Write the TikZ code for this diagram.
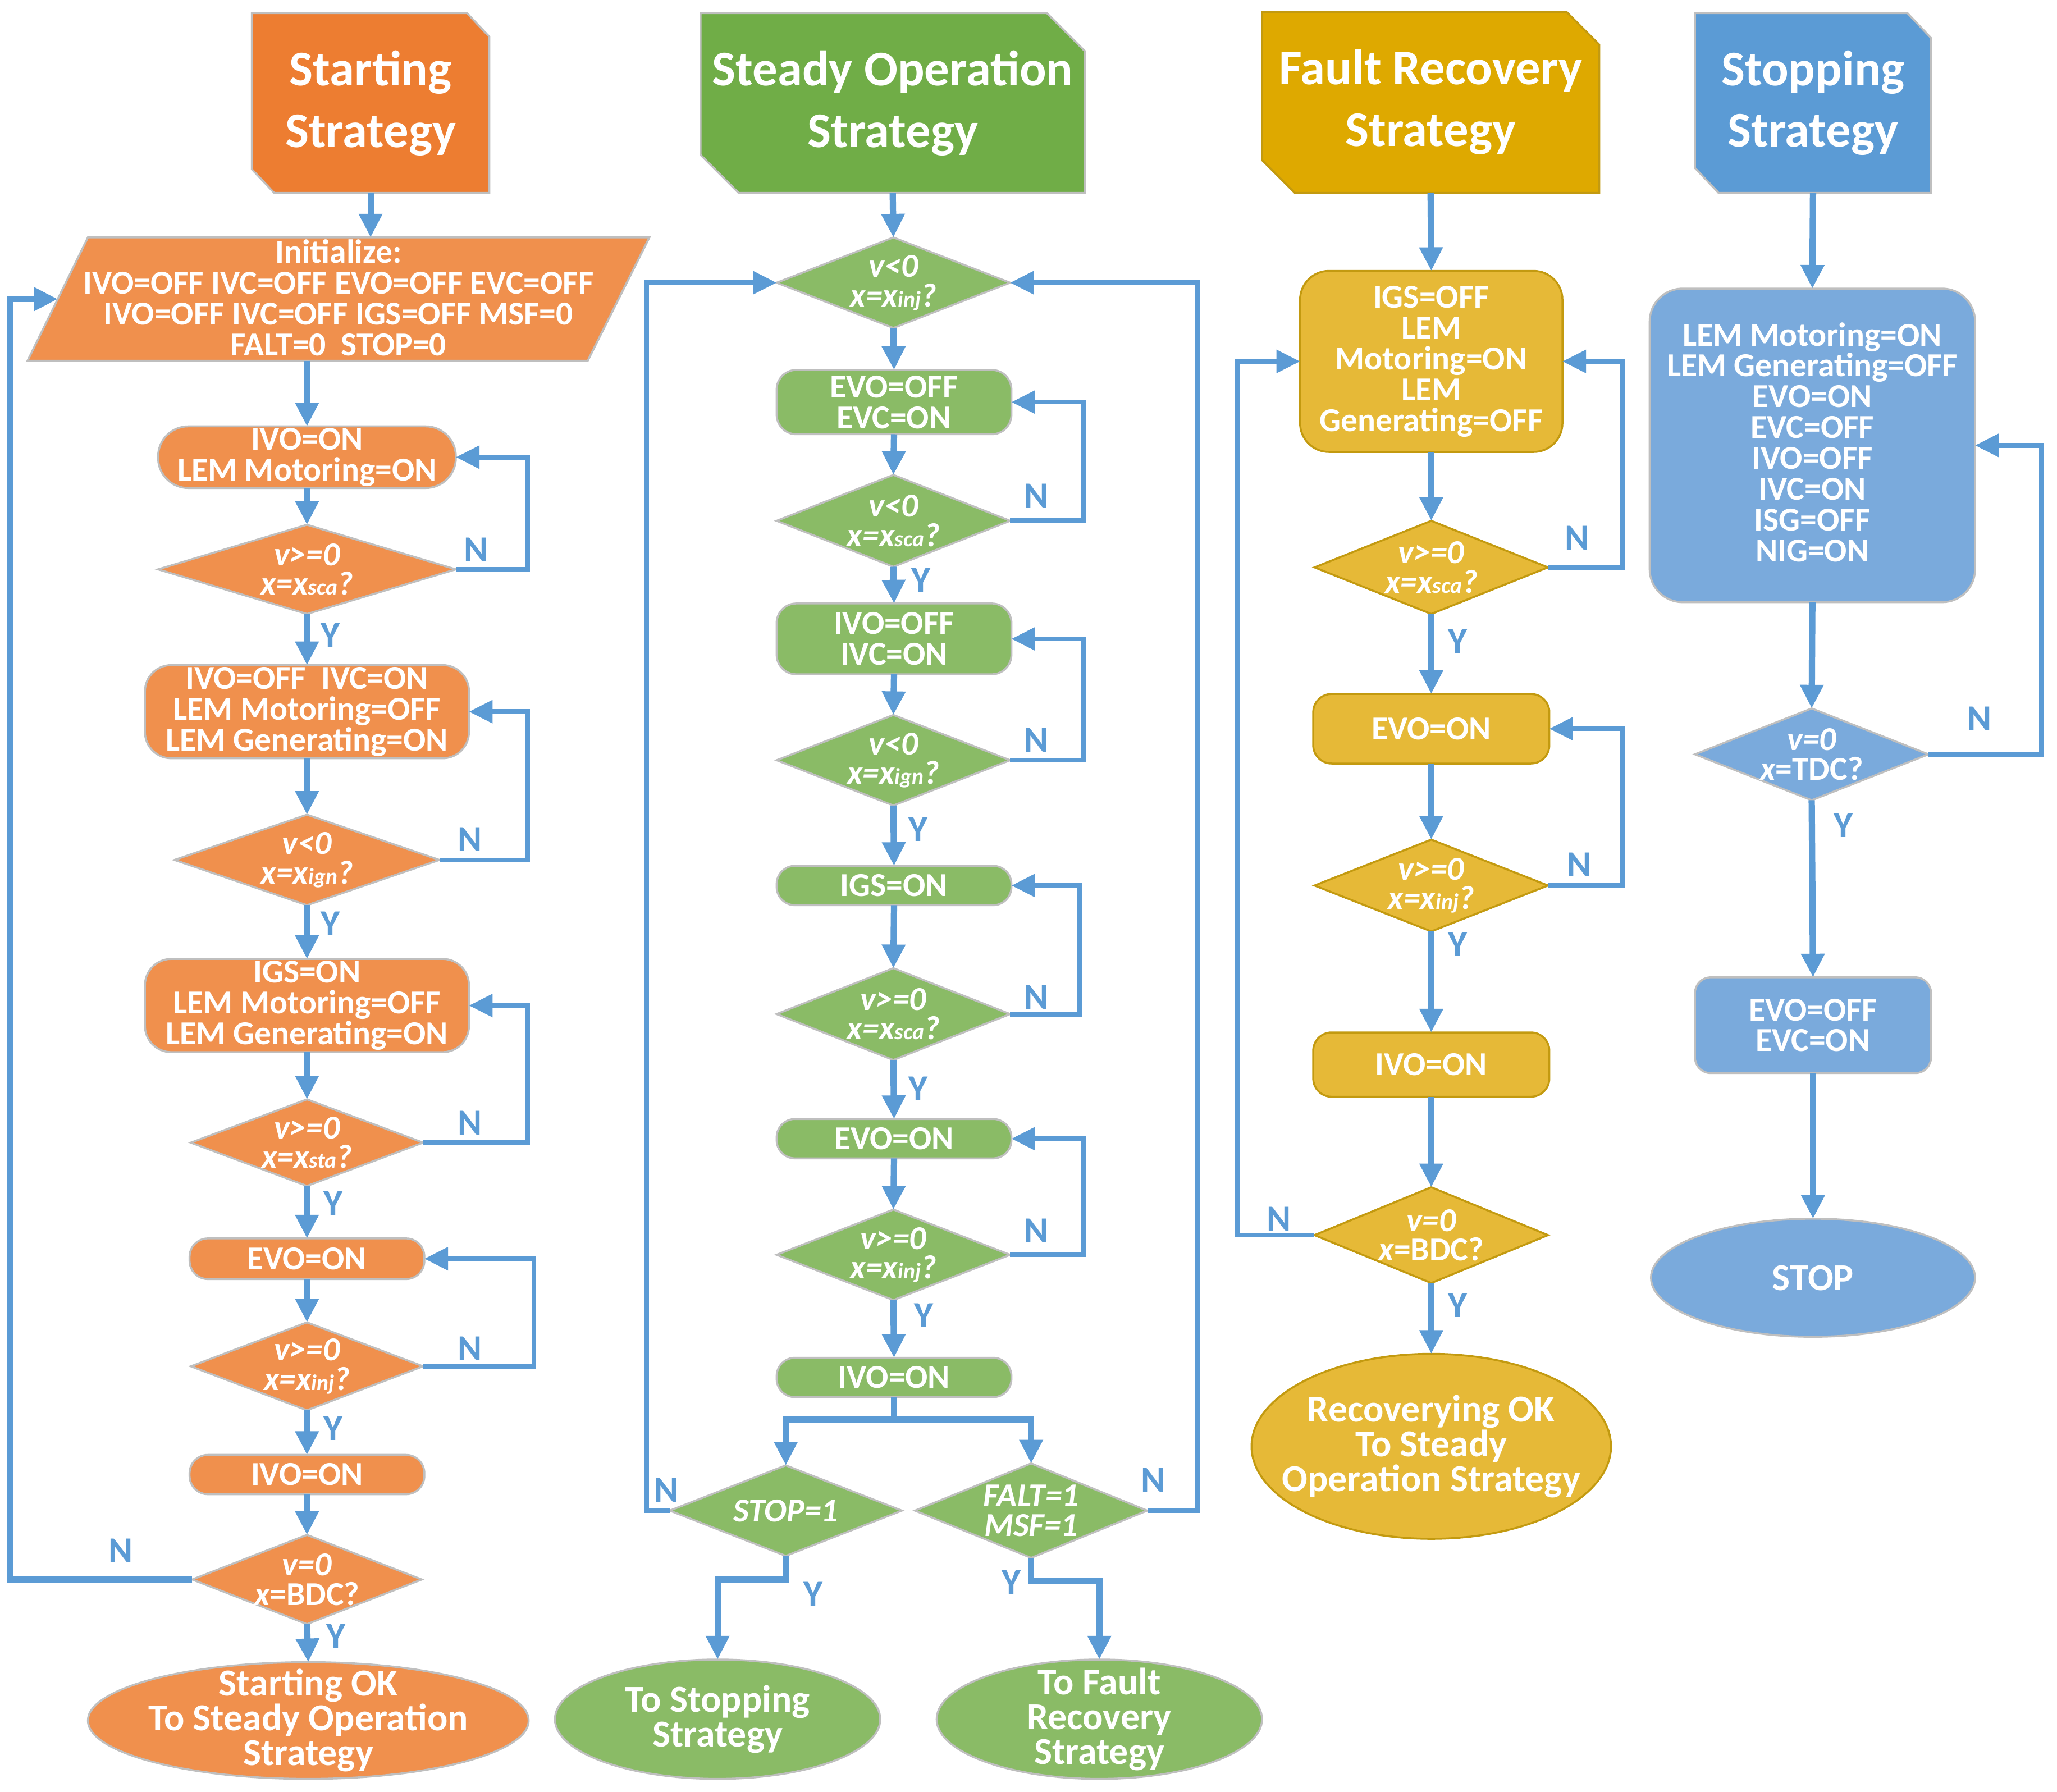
\documentclass[tikz,border=0pt]{standalone}
\usepackage{fontspec}
\setmainfont{Carlito}
\usetikzlibrary{shapes.geometric,arrows.meta}
\definecolor{orangeT}{HTML}{ED7D31}
\definecolor{orangeF}{HTML}{F0904D}
\definecolor{greenT}{HTML}{70AD47}
\definecolor{greenF}{HTML}{8ABB66}
\definecolor{goldT}{HTML}{DEA900}
\definecolor{goldF}{HTML}{E6B937}
\definecolor{goldB}{HTML}{C39A10}
\definecolor{blueT}{HTML}{5B9BD5}
\definecolor{blueF}{HTML}{7AAADC}
\definecolor{lineB}{HTML}{5B9BD5}
\definecolor{greyB}{HTML}{BFBFBF}
\newcommand\subx[1]{{\fontsize{17}{17}\selectfont #1}}
\begin{document}
\begin{tikzpicture}[x=1pt,y=-1pt,
  shp/.style={draw=greyB, line width=1.5pt, inner sep=0pt, outer sep=0pt},
  box/.style={shp, rectangle},
  dec/.style={shp, diamond},
  term/.style={shp, ellipse},
  txt/.style={text=white, align=center, inner sep=0pt, font=\bfseries\fontsize{25.5}{23.5}\selectfont},
  ttxt/.style={txt, font=\bfseries\fontsize{38}{47}\selectfont},
  etxt/.style={txt, font=\bfseries\fontsize{29}{26.5}\selectfont},
  dtxt/.style={txt, font=\bfseries\itshape\fontsize{25.5}{22.5}\selectfont},
  conn/.style={draw=lineB, line width=4.8pt, -{Triangle[length=18pt,width=17pt]}},
  loop/.style={conn, line width=3.6pt},
  bus/.style={draw=lineB, line width=4.8pt},
  lbl/.style={text=lineB, inner sep=0pt, font=\bfseries\fontsize{28}{28}\selectfont},
]
\useasboundingbox (0,0) rectangle (1568,1366);
\fill[white] (0,0) rectangle (1568,1366);

% ================= TITLES =================
\path[shp, fill=orangeT] (192,10) -- (356,10) -- (373,28) -- (373,147) -- (209,147) -- (192,129) -- cycle;
\node[ttxt, minimum width=181pt, minimum height=137pt] (t1) at (282.5,78.5) {Starting\\Strategy};
\path[shp, fill=greenT] (534,10) -- (798,10) -- (827,39) -- (827,147) -- (563,147) -- (534,118) -- cycle;
\node[ttxt, minimum width=293pt, minimum height=137pt] (t2) at (680.5,78.5) {Steady Operation\\Strategy};
\path[shp, draw=goldB, fill=goldT] (962,9) -- (1194,9) -- (1219,34) -- (1219,147) -- (987,147) -- (962,122) -- cycle;
\node[ttxt, minimum width=257pt, minimum height=138pt] (t3) at (1090.5,78) {Fault Recovery\\Strategy};
\path[shp, fill=blueT] (1292,10) -- (1454,10) -- (1472,29) -- (1472,147) -- (1310,147) -- (1292,128) -- cycle;
\node[ttxt, minimum width=180pt, minimum height=137pt] (t4) at (1382,78.5) {Stopping\\Strategy};

% ================= COLUMN 1 (orange) =================
\path[shp, fill=orangeF] (67,181) -- (495,181) -- (448,275) -- (21,275) -- cycle;
\node[txt] (init) at (258,227) {Initialize:\\IVO=OFF IVC=OFF EVO=OFF EVC=OFF\\IVO=OFF IVC=OFF IGS=OFF MSF=0\\FALT=0~~STOP=0};
\coordinate (initT) at (282.5,181);
\coordinate (initB) at (234,275);
\coordinate (initL) at (44,228);

\node[box, fill=orangeF, minimum width=227pt, minimum height=47pt, rounded corners=23pt] (o1) at (234,348.5) {};
\node[txt] (o1t) at (o1) {IVO=ON\\LEM Motoring=ON};
\node[dec, fill=orangeF, minimum width=227pt, minimum height=68pt] (od1) at (234,434) {};
\node[dtxt] (od1t) at (od1) {v>=0\\x=x\subx{sca}?};
\node[box, fill=orangeF, minimum width=247pt, minimum height=71pt, rounded corners=20pt] (o2) at (234,542.5) {};
\node[txt] (o2t) at (o2) {IVO=OFF~~IVC=ON\\LEM Motoring=OFF\\LEM Generating=ON};
\node[dec, fill=orangeF, minimum width=202pt, minimum height=69pt] (od2) at (234,655.5) {};
\node[dtxt] (od2t) at (od2) {v<0\\x=x\subx{ign}?};
\node[box, fill=orangeF, minimum width=247pt, minimum height=71pt, rounded corners=20pt] (o3) at (234,766.5) {};
\node[txt] (o3t) at (o3) {IGS=ON\\LEM Motoring=OFF\\LEM Generating=ON};
\node[dec, fill=orangeF, minimum width=177pt, minimum height=66pt] (od3) at (234,871) {};
\node[dtxt] (od3t) at (od3) {v>=0\\x=x\subx{sta}?};
\node[box, fill=orangeF, minimum width=179pt, minimum height=31pt, rounded corners=14pt] (o4) at (234,959.5) {};
\node[txt] (o4t) at (o4) {EVO=ON};
\node[dec, fill=orangeF, minimum width=177pt, minimum height=67pt] (od4) at (234,1041.5) {};
\node[dtxt] (od4t) at (od4) {v>=0\\x=x\subx{inj}?};
\node[box, fill=orangeF, minimum width=179pt, minimum height=30pt, rounded corners=14pt] (o5) at (234,1124) {};
\node[txt] (o5t) at (o5) {IVO=ON};
\node[dec, fill=orangeF, minimum width=175pt, minimum height=68pt] (od5) at (234,1204) {};
\node[dtxt] (od5t) at (od5) {v=0\\x\upshape=BDC?};
\node[term, fill=orangeF, minimum width=336pt, minimum height=89pt] (oe) at (235,1311.5) {};
\node[etxt] (oet) at (oe) {Starting OK\\To Steady Operation\\Strategy};

\draw[conn] (t1.south) -- (initT);
\draw[conn] (initB) -- (o1.north);
\draw[conn] (o1.south) -- (od1.north);
\draw[conn] (od1.south) -- (o2.north);
\draw[conn] (o2.south) -- (od2.north);
\draw[conn] (od2.south) -- (o3.north);
\draw[conn] (o3.south) -- (od3.north);
\draw[conn] (od3.south) -- (o4.north);
\draw[conn] (o4.south) -- (od4.north);
\draw[conn] (od4.south) -- (o5.north);
\draw[conn] (o5.south) -- (od5.north);
\draw[conn] (od5.south) -- (oe.north);
\draw[loop] (od1.east) -- (402,434) |- (o1.east);
\draw[loop] (od2.east) -- (402,655.5) |- (o2.east);
\draw[loop] (od3.east) -- (402,871) |- (o3.east);
\draw[loop] (od4.east) -- (407,1041.5) |- (o4.east);
\draw[conn] (od5.west) -- (8,1204) |- (initL);
\node[lbl] (n1) at (363,419) {N};
\node[lbl] (n2) at (358,640) {N};
\node[lbl] (n3) at (358,856) {N};
\node[lbl] (n4) at (358,1028) {N};
\node[lbl] (n5) at (92,1182) {N};
\node[lbl] (y1) at (252,484) {Y};
\node[lbl] (y2) at (252,704) {Y};
\node[lbl] (y3) at (254,917) {Y};
\node[lbl] (y4) at (254,1089) {Y};
\node[lbl] (y5) at (256,1247) {Y};

% ================= COLUMN 2 (green) =================
\node[dec, fill=greenF, minimum width=178pt, minimum height=69pt] (gd1) at (681,215.5) {};
\node[dtxt] (gd1t) at (gd1) {v<0\\x=x\subx{inj}?};
\node[box, fill=greenF, minimum width=179pt, minimum height=49pt, rounded corners=15pt] (g1) at (681.5,306.5) {};
\node[txt] (g1t) at (g1) {EVO=OFF\\EVC=ON};
\node[dec, fill=greenF, minimum width=178pt, minimum height=70pt] (gd2) at (681,397) {};
\node[dtxt] (gd2t) at (gd2) {v<0\\x=x\subx{sca}?};
\node[box, fill=greenF, minimum width=179pt, minimum height=54pt, rounded corners=15pt] (g2) at (681.5,487) {};
\node[txt] (g2t) at (g2) {IVO=OFF\\IVC=ON};
\node[dec, fill=greenF, minimum width=178pt, minimum height=69pt] (gd3) at (681,579.5) {};
\node[dtxt] (gd3t) at (gd3) {v<0\\x=x\subx{ign}?};
\node[box, fill=greenF, minimum width=179pt, minimum height=30pt, rounded corners=14pt] (g3) at (681.5,675) {};
\node[txt] (g3t) at (g3) {IGS=ON};
\node[dec, fill=greenF, minimum width=178pt, minimum height=70pt] (gd4) at (681,773) {};
\node[dtxt] (gd4t) at (gd4) {v>=0\\x=x\subx{sca}?};
\node[box, fill=greenF, minimum width=179pt, minimum height=30pt, rounded corners=14pt] (g4) at (681.5,868) {};
\node[txt] (g4t) at (g4) {EVO=ON};
\node[dec, fill=greenF, minimum width=178pt, minimum height=69pt] (gd5) at (681,956.5) {};
\node[dtxt] (gd5t) at (gd5) {v>=0\\x=x\subx{inj}?};
\node[box, fill=greenF, minimum width=179pt, minimum height=30pt, rounded corners=14pt] (g5) at (681.5,1050) {};
\node[txt] (g5t) at (g5) {IVO=ON};
\node[dec, fill=greenF, minimum width=177pt, minimum height=69pt] (gd6) at (599,1151.5) {};
\node[dtxt] (gd6t) at (gd6) {STOP=1};
\node[dec, fill=greenF, minimum width=177pt, minimum height=72pt] (gd7) at (786,1151.5) {};
\node[dtxt] (gd7t) at (gd7) {FALT=1\\MSF=1};
\node[term, fill=greenF, minimum width=248pt, minimum height=91pt] (ge1) at (547,1310.5) {};
\node[etxt] (ge1t) at (ge1) {To Stopping\\Strategy};
\node[term, fill=greenF, minimum width=248pt, minimum height=91pt] (ge2) at (838,1310.5) {};
\node[etxt] (ge2t) at (ge2) {To Fault\\Recovery\\Strategy};

\draw[conn] (t2.south) -- (gd1.north);
\draw[conn] (gd1.south) -- (g1.north);
\draw[conn] (g1.south) -- (gd2.north);
\draw[conn] (gd2.south) -- (g2.north);
\draw[conn] (g2.south) -- (gd3.north);
\draw[conn] (gd3.south) -- (g3.north);
\draw[conn] (g3.south) -- (gd4.north);
\draw[conn] (gd4.south) -- (g4.north);
\draw[conn] (g4.south) -- (gd5.north);
\draw[conn] (gd5.south) -- (g5.north);
\draw[loop] (gd2.east) -- (826,397) |- (g1.east);
\draw[loop] (gd3.east) -- (826,579.5) |- (g2.east);
\draw[loop] (gd4.east) -- (823,773) |- (g3.east);
\draw[loop] (gd5.east) -- (826,956.5) |- (g4.east);
\coordinate (gsplit) at (681.5,1082);
\draw[bus] (g5.south) -- (gsplit);
\draw[conn] (gsplit) -| (gd6.north);
\draw[conn] (gsplit) -| (gd7.north);
\draw[loop] (gd6.west) -- (493,1151.5) |- (gd1.west);
\draw[loop] (gd7.east) -- (913,1151.5) |- (gd1.east);
\draw[conn] (gd6.south) -- (599,1204) -| (ge1.north);
\draw[conn] (gd7.south) -- (786,1205) -| (ge2.north);
\node[lbl] (gn1) at (790,378) {N};
\node[lbl] (gn2) at (790,564) {N};
\node[lbl] (gn3) at (790,760) {N};
\node[lbl] (gn4) at (790,938) {N};
\node[lbl] (gn5) at (508,1136) {N};
\node[lbl] (gn6) at (879,1128) {N};
\node[lbl] (gy1) at (702,442) {Y};
\node[lbl] (gy2) at (700,632) {Y};
\node[lbl] (gy3) at (700,830) {Y};
\node[lbl] (gy4) at (704,1003) {Y};
\node[lbl] (gy5) at (620,1215) {Y};
\node[lbl] (gy6) at (771,1206) {Y};

% ================= COLUMN 3 (gold) =================
\node[box, draw=goldB, fill=goldF, minimum width=200pt, minimum height=138pt, rounded corners=22pt] (f0) at (1091,275.5) {};
\node[txt] (f0t) at (f0) {IGS=OFF\\LEM\\Motoring=ON\\LEM\\Generating=OFF};
\node[dec, draw=goldB, fill=goldF, minimum width=178pt, minimum height=71pt] (fd1) at (1091,432.5) {};
\node[dtxt] (fd1t) at (fd1) {v>=0\\x=x\subx{sca}?};
\node[box, draw=goldB, fill=goldF, minimum width=180pt, minimum height=53pt, rounded corners=14pt] (f1) at (1091,555.5) {};
\node[txt] (f1t) at (f1) {EVO=ON};
\node[dec, draw=goldB, fill=goldF, minimum width=178pt, minimum height=70pt] (fd2) at (1091,675) {};
\node[dtxt] (fd2t) at (fd2) {v>=0\\x=x\subx{inj}?};
\node[box, draw=goldB, fill=goldF, minimum width=180pt, minimum height=49pt, rounded corners=14pt] (f2) at (1091,811.5) {};
\node[txt] (f2t) at (f2) {IVO=ON};
\node[dec, draw=goldB, fill=goldF, minimum width=178pt, minimum height=73pt] (fd3) at (1091,941.5) {};
\node[dtxt] (fd3t) at (fd3) {v=0\\x\upshape=BDC?};
\node[term, draw=goldB, fill=goldF, minimum width=274pt, minimum height=141pt] (fe) at (1091,1102.5) {};
\node[etxt] (fet) at (fe) {Recoverying OK\\To Steady\\Operation Strategy};

\draw[conn] (t3.south) -- (f0.north);
\draw[conn] (f0.south) -- (fd1.north);
\draw[conn] (fd1.south) -- (f1.north);
\draw[conn] (f1.south) -- (fd2.north);
\draw[conn] (fd2.south) -- (f2.north);
\draw[conn] (f2.south) -- (fd3.north);
\draw[conn] (fd3.south) -- (fe.north);
\draw[loop] (fd1.east) -- (1237,432.5) |- (f0.east);
\draw[loop] (fd2.east) -- (1237,675) |- (f1.east);
\draw[loop] (fd3.west) -- (943,941.5) |- (f0.west);
\node[lbl] (fn1) at (1202,410) {N};
\node[lbl] (fn2) at (1204,659) {N};
\node[lbl] (fn3) at (975,929) {N};
\node[lbl] (fy1) at (1111,489) {Y};
\node[lbl] (fy2) at (1111,720) {Y};
\node[lbl] (fy3) at (1111,995) {Y};

% ================= COLUMN 4 (blue) =================
\node[box, fill=blueF, minimum width=248pt, minimum height=239pt, rounded corners=25pt] (b1) at (1381.5,339.5) {};
\node[txt] (b1t) at (1381.5,337) {LEM Motoring=ON\\LEM Generating=OFF\\EVO=ON\\EVC=OFF\\IVO=OFF\\IVC=ON\\ISG=OFF\\NIG=ON};
\node[dec, fill=blueF, minimum width=178pt, minimum height=70pt] (bd1) at (1381,575) {};
\node[dtxt] (bd1t) at (bd1) {v=0\\x\upshape=TDC?};
\node[box, fill=blueF, minimum width=180pt, minimum height=73pt, rounded corners=12pt] (b2) at (1382,781.5) {};
\node[txt] (b2t) at (b2) {EVO=OFF\\EVC=ON};
\node[term, fill=blueF, minimum width=247pt, minimum height=90pt] (be) at (1382,974) {};
\node[etxt] (bet) at (be) {STOP};

\draw[conn] (t4.south) -- (b1.north);
\draw[conn] (b1.south) -- (bd1.north);
\draw[conn] (bd1.south) -- (b2.north);
\draw[conn] (b2.south) -- (be.north);
\draw[loop] (bd1.east) -- (1556,575) |- (b1.east);
\node[lbl] (bn1) at (1509,548) {N};
\node[lbl] (by1) at (1405,629) {Y};
\end{tikzpicture}
\end{document}
